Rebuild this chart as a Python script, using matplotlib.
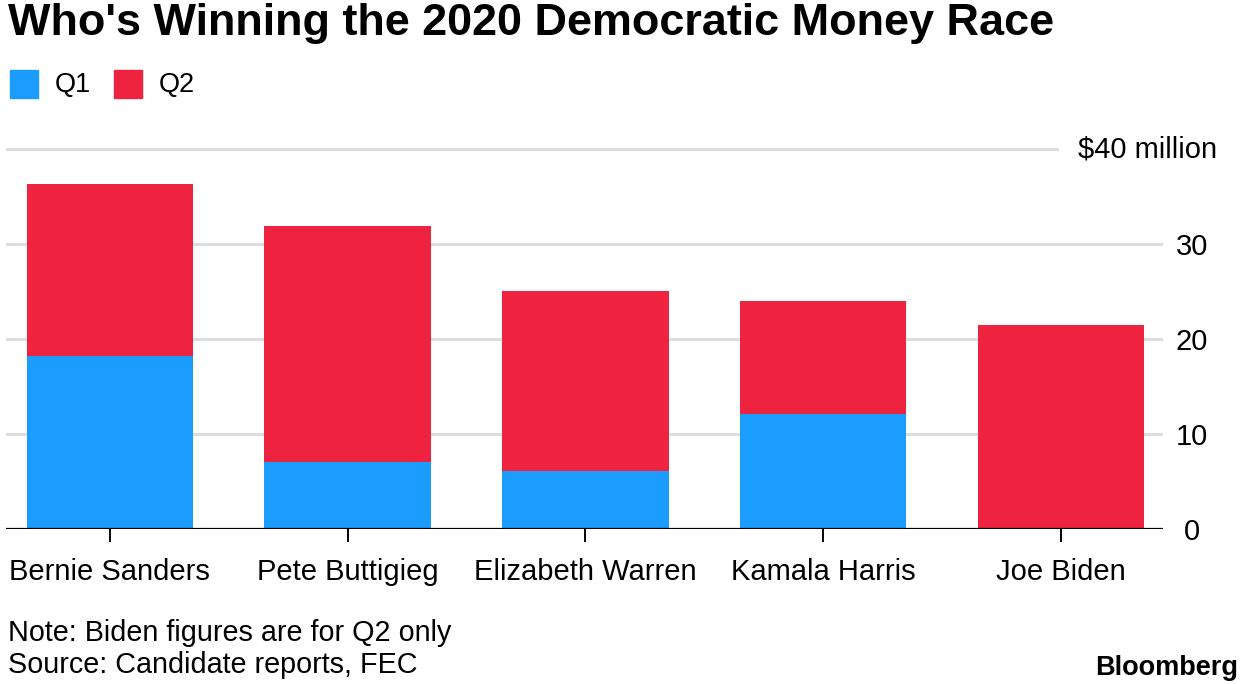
import matplotlib.pyplot as plt

candidates = ["Bernie Sanders", "Pete Buttigieg", "Elizabeth Warren", "Kamala Harris", "Joe Biden"]
q1 = [18.2, 7.1, 6.1, 12.1, 0.0]
q2 = [18.1, 24.8, 19.0, 11.9, 21.5]
y_ticks = [0, 10, 20, 30]
top_label = "$40 million"

BLUE = "#1A9DFF"
RED = "#EE2340"
GRID = "#DDDDDD"

plt.rcParams['font.family'] = ['Liberation Sans', 'DejaVu Sans']

fig = plt.figure(figsize=(12.44, 6.84), dpi=100)
ax = fig.add_axes([6 / 1244, 1 - 529 / 684, 1157 / 1244, (529 - 139.5) / 684])

x = range(len(candidates))
ax.bar(x, q1, width=0.7, color=BLUE, zorder=3)
ax.bar(x, q2, width=0.7, bottom=q1, color=RED, zorder=3)

ax.set_xlim(-0.437, 4.43)
ax.set_ylim(0, 41)

for t in y_ticks[1:]:
    ax.axhline(t, color=GRID, lw=2.2, zorder=1)
ax.axhline(40, xmin=0, xmax=(1057 - 6) / 1157, color=GRID, lw=2.2, zorder=1)
ax.axhline(0, color="black", lw=1.6, zorder=4)

for s in ax.spines.values():
    s.set_visible(False)

ax.set_xticks(list(x))
ax.set_xticklabels(candidates, fontsize=21)
ax.tick_params(axis="x", length=9, width=1.4, color="black", pad=12)

ax.yaxis.tick_right()
ax.set_yticks(y_ticks)
ax.set_yticklabels([str(t) for t in y_ticks], fontsize=21, ha="center")
ax.tick_params(axis="y", length=0, pad=21)

ax.text(1217 / 1244, 1 - 149 / 684, top_label, transform=fig.transFigure,
        fontsize=21, ha="right", va="center")

fig.text(8 / 1244, 1 - 23 / 684, "Who's Winning the 2020 Democratic Money Race",
         fontsize=32.4, fontweight="bold", ha="left", va="center")

# legend
for lab, col, x0 in [("Q1", BLUE, 10), ("Q2", RED, 114)]:
    fig.patches.append(plt.Rectangle((x0 / 1244, 1 - 98 / 684), 28 / 1244, 28 / 684,
                                     transform=fig.transFigure, color=col))
    fig.text((x0 + 45) / 1244, 1 - 85 / 684, lab, fontsize=19.5, ha="left", va="center")

fig.text(8 / 1244, 1 - 633 / 684, "Note: Biden figures are for Q2 only", fontsize=20.7,
         ha="left", va="center")
fig.text(8 / 1244, 1 - 665 / 684, "Source: Candidate reports, FEC", fontsize=20.7,
         ha="left", va="center")
fig.text(1238 / 1244, 1 - 668 / 684, "Bloomberg", fontsize=19.5, fontweight="bold",
         ha="right", va="center")

fig.savefig("out.png", dpi=100)
